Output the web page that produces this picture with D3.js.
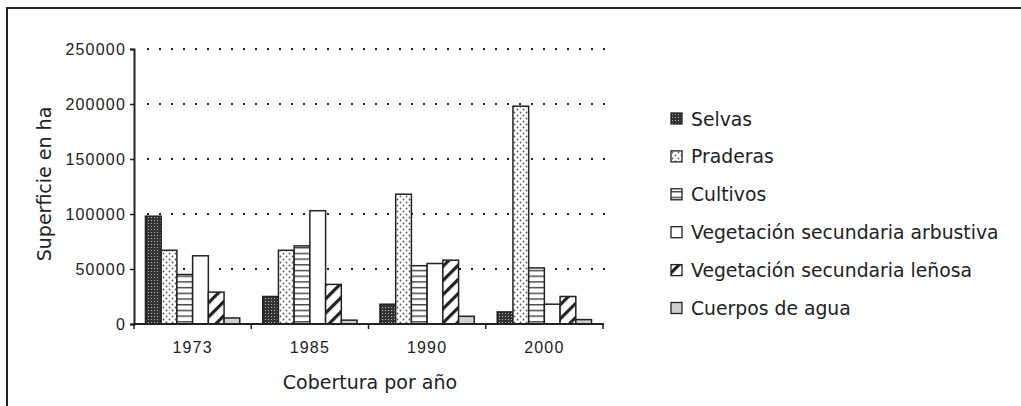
<!DOCTYPE html>
<html>
<head>
<meta charset="utf-8">
<script src="https://cdn.jsdelivr.net/npm/d3@7"></script>
<style>
  body { margin: 0; background: #fff; }
  svg { display: block; }
</style>
</head>
<body>
<div id="chart"></div>
<script>
// data
const years = ["1973", "1985", "1990", "2000"];
const series = ["Selvas", "Praderas", "Cultivos", "Vegetación secundaria arbustiva", "Vegetación secundaria leñosa", "Cuerpos de agua"];
const selvas = [98000, 25000, 18000, 11000];
const praderas = [67000, 67000, 118000, 198000];
const cultivos = [45000, 71000, 53000, 51000];
const vegArbustiva = [62000, 103000, 55000, 18000];
const vegLenosa = [29000, 36000, 58000, 25000];
const cuerposAgua = [5500, 3500, 7000, 4000];
const yTicks = [0, 50000, 100000, 150000, 200000, 250000];

const values = [selvas, praderas, cultivos, vegArbustiva, vegLenosa, cuerposAgua];
const rows = [];
years.forEach((yr, i) => {
    series.forEach((s, j) => rows.push({ year: yr, series: s, idx: j, value: values[j][i] }));
});

const W = 1021, H = 406;
const ink = "#222";

const svg = d3.select("#chart").append("svg")
    .attr("width", W)
    .attr("height", H);

// fill patterns
const defs = svg.append("defs");

let p = defs.append("pattern").attr("id", "p0").attr("patternUnits", "userSpaceOnUse")
    .attr("width", 3).attr("height", 3);
p.append("rect").attr("width", 3).attr("height", 3).attr("fill", "#333");
p.append("rect").attr("x", 1).attr("y", 1).attr("width", 1).attr("height", 1).attr("fill", "#b8b8b8");

p = defs.append("pattern").attr("id", "p1").attr("patternUnits", "userSpaceOnUse")
    .attr("width", 6).attr("height", 6);
p.append("rect").attr("width", 6).attr("height", 6).attr("fill", "#fff");
p.append("circle").attr("cx", 1.5).attr("cy", 1.5).attr("r", 0.9).attr("fill", "#555");
p.append("circle").attr("cx", 4.5).attr("cy", 4.5).attr("r", 0.9).attr("fill", "#555");

p = defs.append("pattern").attr("id", "p2").attr("patternUnits", "userSpaceOnUse")
    .attr("width", 6).attr("height", 5.7);
p.append("rect").attr("width", 6).attr("height", 5.7).attr("fill", "#fff");
p.append("rect").attr("y", 2).attr("width", 6).attr("height", 1.3).attr("fill", "#333");

p = defs.append("pattern").attr("id", "p4").attr("patternUnits", "userSpaceOnUse")
    .attr("width", 10).attr("height", 10).attr("patternTransform", "rotate(45)");
p.append("rect").attr("width", 10).attr("height", 10).attr("fill", "#fff");
p.append("rect").attr("width", 3.2).attr("height", 10).attr("fill", "#222");

const fills = ["url(#p0)", "url(#p1)", "url(#p2)", "#fff", "url(#p4)", "#cfcfcf"];

// outer frame (top and left only)
svg.append("path")
    .attr("d", "M7,406V8H1021")
    .attr("fill", "none")
    .attr("stroke", ink)
    .attr("stroke-width", 2);

const x0 = d3.scaleBand().domain(years).range([134, 603]).padding(0);
const x1 = d3.scaleBand().domain(series).range([0, x0.bandwidth()]).paddingInner(0).paddingOuter(0.73);
const y = d3.scaleLinear().domain([0, 250000]).range([324, 49]);

// dotted grid lines
svg.append("g")
    .selectAll("line")
    .data(yTicks.filter(d => d > 0))
    .join("line")
    .attr("x1", 147)
    .attr("x2", 605)
    .attr("y1", d => y(d))
    .attr("y2", d => y(d))
    .attr("stroke", ink)
    .attr("stroke-width", 2)
    .attr("stroke-dasharray", "2,10");

// bars
svg.append("g")
    .selectAll("rect")
    .data(rows)
    .join("rect")
    .attr("x", d => x0(d.year) + x1(d.series))
    .attr("y", d => y(d.value))
    .attr("width", x1.bandwidth())
    .attr("height", d => y(0) - y(d.value))
    .attr("fill", d => fills[d.idx])
    .attr("stroke", ink)
    .attr("stroke-width", 1.5);

// y axis
const yAxis = svg.append("g")
    .attr("transform", "translate(134,0)")
    .call(d3.axisLeft(y).tickValues(yTicks).tickFormat(d3.format("d")).tickSize(4).tickPadding(4));
yAxis.select(".domain").attr("stroke", ink).attr("stroke-width", 2);
yAxis.selectAll(".tick line").attr("stroke", ink).attr("stroke-width", 1.5);
yAxis.selectAll("text")
    .attr("fill", ink)
    .style("font-family", "'Liberation Sans', Arial, sans-serif")
    .style("font-size", "16px")
    .style("letter-spacing", "1.2px");

// x axis: ticks at category boundaries, labels centred
const xAxis = svg.append("g").attr("transform", "translate(0,324)");
xAxis.append("line")
    .attr("x1", 133).attr("x2", 604)
    .attr("stroke", ink).attr("stroke-width", 2);
xAxis.selectAll("line.tk")
    .data(years.map(d => x0(d)).concat([x0.range()[1]]))
    .join("line")
    .attr("class", "tk")
    .attr("x1", d => d).attr("x2", d => d)
    .attr("y1", 0).attr("y2", 5)
    .attr("stroke", ink).attr("stroke-width", 1.5);
xAxis.selectAll("text")
    .data(years)
    .join("text")
    .attr("x", d => x0(d) + x0.bandwidth() / 2)
    .attr("y", 29)
    .attr("text-anchor", "middle")
    .attr("fill", ink)
    .style("font-family", "'Liberation Sans', Arial, sans-serif")
    .style("font-size", "16px")
    .style("letter-spacing", "1.2px")
    .text(d => d);

// axis titles
svg.append("text")
    .attr("x", 370)
    .attr("y", 389)
    .attr("text-anchor", "middle")
    .attr("fill", ink)
    .style("font-family", "'DejaVu Sans', sans-serif")
    .style("font-size", "19px")
    .text("Cobertura por año");

svg.append("text")
    .attr("transform", "translate(51,184) rotate(-90)")
    .attr("text-anchor", "middle")
    .attr("fill", ink)
    .style("font-family", "'DejaVu Sans', sans-serif")
    .style("font-size", "19px")
    .text("Superficie en ha");

// legend
const legend = svg.append("g")
    .selectAll("g")
    .data(series)
    .join("g")
    .attr("transform", (d, i) => "translate(671," + (119 + i * 37.9) + ")");
legend.append("rect")
    .attr("x", 0).attr("y", -6)
    .attr("width", 11).attr("height", 11)
    .attr("fill", (d, i) => fills[i])
    .attr("stroke", ink)
    .attr("stroke-width", 1.3);
legend.append("text")
    .attr("x", 20)
    .attr("y", 6.5)
    .attr("fill", ink)
    .style("font-family", "'DejaVu Sans', sans-serif")
    .style("font-size", "18.8px")
    .text(d => d);
</script>
</body>
</html>
